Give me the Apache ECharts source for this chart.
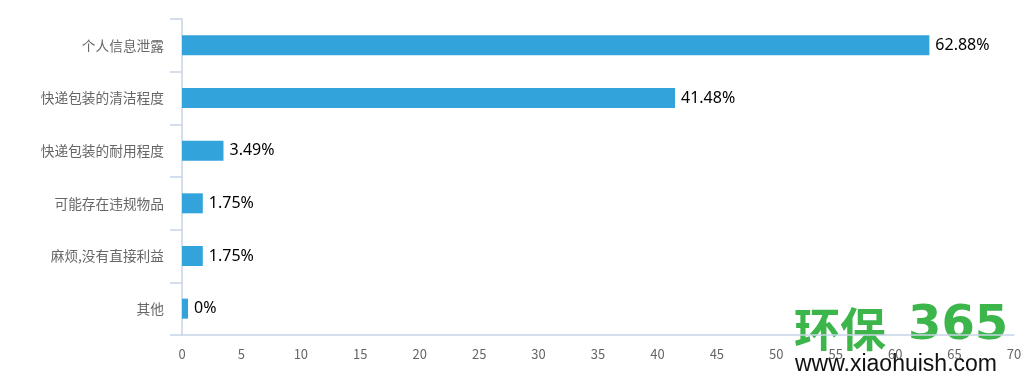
<!DOCTYPE html>
<html>
<head>
<meta charset="utf-8">
<script src="https://cdn.jsdelivr.net/npm/echarts@6/dist/echarts.min.js"></script>
<style>html,body{margin:0;padding:0;background:#fff}#c{width:1026px;height:385px}</style>
</head>
<body>
<div id="c"></div>
<script>
var categories = ['个人信息泄露', '快递包装的清洁程度', '快递包装的耐用程度', '可能存在违规物品', '麻烦,没有直接利益', '其他'];
var values = [62.88, 41.48, 3.49, 1.75, 1.75, 0];
var xTicks = { min: 0, max: 70, interval: 5 };

var chart = echarts.init(document.getElementById('c'));
chart.setOption({
  animation: false,
  grid: { left: 182, right: 12, top: 19, bottom: 50 },
  xAxis: {
    type: 'value', min: xTicks.min, max: xTicks.max, interval: xTicks.interval,
    axisLine: { show: true, lineStyle: { color: '#c8d3e6', width: 1.5 } },
    axisTick: { show: false },
    splitLine: { show: false },
    axisLabel: { color: '#666666', fontSize: 13, margin: 13, fontFamily: 'Noto Sans CJK SC, sans-serif' }
  },
  yAxis: {
    type: 'category', inverse: true, data: categories,
    axisLine: { show: true, lineStyle: { color: '#c8d3e6', width: 1.5 } },
    axisTick: { show: true, length: 12, lineStyle: { color: '#c8d3e6', width: 1.5 } },
    axisLabel: { color: '#666666', fontSize: 13.7, margin: 18, fontFamily: 'Noto Sans CJK SC, sans-serif' }
  },
  series: [{
    type: 'bar', data: values, barWidth: 20, barMinHeight: 6,
    itemStyle: { color: '#33a3dc' },
    label: { show: true, position: 'right', distance: 6, color: '#000', fontSize: 16,
      fontFamily: 'Noto Sans, sans-serif', formatter: function (p) { return p.value + '%'; } }
  }],
  graphic: [
    { type: 'text', left: 794, top: 306, style: { text: '环保', fill: '#3cb54a', font: 'bold 46px "Noto Sans CJK SC"' } },
    { type: 'text', left: 908, top: 303, style: { text: '365', fill: '#3cb54a', font: 'bold 48px "DejaVu Sans"' } },
    { type: 'text', left: 795, top: 353, style: { text: 'www.xiaohuish.com', fill: '#111', font: '23px "Liberation Sans"' } }
  ]
});
</script>
</body>
</html>
